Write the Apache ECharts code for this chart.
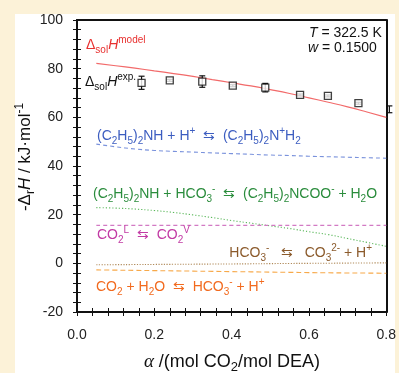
<!DOCTYPE html>
<html>
<head>
<meta charset="utf-8">
<script src="https://cdn.jsdelivr.net/npm/echarts@6/dist/echarts.min.js"></script>
<style>
  html, body { margin: 0; padding: 0; background: #fcf2d8; }
  #panel { position: absolute; left: 15px; top: 14px; width: 380px; height: 359px; background: #ffffff; }
  #chart { position: absolute; left: 0; top: 0; width: 399px; height: 373px; }
</style>
</head>
<body>
<div id="panel"></div>
<div id="chart"></div>
<script>
// Loading (mol CO2 / mol DEA) at which the model curves are evaluated
const alpha = [0.05, 0.10, 0.15, 0.20, 0.25, 0.30, 0.35, 0.40, 0.45, 0.50, 0.55, 0.60, 0.65, 0.70, 0.75, 0.80];

// Model enthalpy of solution and its reaction contributions (kJ/mol)
const modelH      = [82.2, 81.2, 80.2, 79.1, 78.0, 76.8, 75.5, 74.2, 72.9, 71.4, 69.8, 68.0, 66.2, 64.3, 62.2, 60.0];
const protonH     = [49.0, 47.9, 47.0, 46.4, 46.0, 45.7, 45.4, 45.1, 44.8, 44.5, 44.3, 44.0, 43.8, 43.6, 43.4, 43.2];
const carbamateH  = [22.9, 22.7, 22.3, 21.7, 20.9, 19.9, 18.8, 17.6, 16.5, 15.4, 14.3, 13.0, 11.8, 10.2, 8.6, 7.0];
const desorbH     = [15.6, 15.6, 15.6, 15.6, 15.6, 15.6, 15.6, 15.6, 15.6, 15.6, 15.6, 15.6, 15.6, 15.6, 15.6, 15.6];
const bicarbH     = [-0.6, -0.55, -0.5, -0.45, -0.4, -0.35, -0.3, -0.25, -0.2, -0.12, -0.05, 0.0, 0.05, 0.1, 0.15, 0.2];
const hydrationH  = [-2.7, -2.8, -2.9, -3.0, -3.1, -3.2, -3.3, -3.4, -3.5, -3.6, -3.7, -3.8, -3.9, -3.95, -4.0, -4.1];

// Calorimetric measurements with uncertainties
const expAlpha = [0.167, 0.240, 0.324, 0.403, 0.487, 0.577, 0.649, 0.728, 0.808];
const expH     = [74.2, 75.2, 74.7, 73.0, 72.2, 69.2, 68.8, 65.8, 63.3];
const expErr   = [2.7, 0.4, 2.35, 0.4, 1.75, 0.4, 0.4, 0.4, 1.4];

// Axis ranges and ticks
const xTicks = { min: 0, max: 0.8, step: 0.2 };
const yTicks = { min: -20, max: 100, step: 20 };

const FONT = '"Liberation Sans", Arial, sans-serif';

const pairs = (ys) => alpha.map((a, i) => [a, ys[i]]);

function richSet(color, size) {
  const sub = Math.round(size * 0.7);
  return {
    b: { color, fontSize: size, fontFamily: FONT, lineHeight: size + 6 },
    i: { color, fontSize: size, fontFamily: FONT, fontStyle: 'italic', lineHeight: size + 6 },
    s: { color, fontSize: sub, fontFamily: FONT, lineHeight: sub, verticalAlign: 'bottom' },
    p: { color, fontSize: sub, fontFamily: FONT, lineHeight: sub, verticalAlign: 'top' },
    g: { color, fontSize: size + 1, fontFamily: '"Liberation Serif", serif', fontStyle: 'italic', lineHeight: size + 6 }
  };
}

function label(x, y, text, color, size, align, extra) {
  return Object.assign({
    type: 'text',
    x, y,
    z: 50,
    style: {
      text,
      align: align || 'left',
      verticalAlign: 'middle',
      rich: richSet(color, size),
      fill: color,
      font: size + 'px ' + FONT
    }
  }, extra || {});
}

const baseAxis = {
  axisLine: { show: true, onZero: false, lineStyle: { color: '#111', width: 2 } },
  splitLine: { show: false }
};

function lineSeries(ys, color, type, name) {
  return {
    name,
    type: 'line',
    data: pairs(ys),
    smooth: true,
    symbol: 'none',
    z: 3,
    lineStyle: { color, width: 1.1, type }
  };
}

// Squares are only drawn for loadings inside the axis range; error bars are drawn for all
const inRange = expAlpha.map((a, i) => [a, expH[i]]).filter((p) => p[0] <= xTicks.max);

const chart = echarts.init(document.getElementById('chart'), null, { renderer: 'canvas' });

chart.setOption({
  animation: false,
  grid: { left: 77, top: 20, right: 12, bottom: 61 },
  xAxis: [
    Object.assign({}, baseAxis, {
      type: 'value', position: 'bottom',
      min: xTicks.min, max: xTicks.max, interval: xTicks.step,
      axisTick: { show: true, inside: false, length: 4, lineStyle: { color: '#111', width: 1 } },
      minorTick: { show: true, splitNumber: 5, length: 4, lineStyle: { color: '#111', width: 1 } },
      axisLabel: { color: '#222', fontSize: 14, fontFamily: FONT, margin: 16,
                   formatter: (v) => v.toFixed(1) }
    }),
    Object.assign({}, baseAxis, {
      type: 'value', position: 'bottom',
      min: xTicks.min, max: xTicks.max, interval: xTicks.step,
      axisTick: { show: true, inside: true, length: 4, lineStyle: { color: '#111', width: 1 } },
      minorTick: { show: true, splitNumber: 5, length: 4, lineStyle: { color: '#111', width: 1 } },
      axisLabel: { show: false }
    }),
    Object.assign({}, baseAxis, {
      type: 'value', position: 'top',
      min: xTicks.min, max: xTicks.max, interval: xTicks.step,
      axisTick: { show: false }, axisLabel: { show: false }
    })
  ],
  yAxis: [
    Object.assign({}, baseAxis, {
      type: 'value', position: 'left',
      min: yTicks.min, max: yTicks.max, interval: yTicks.step,
      axisTick: { show: true, inside: false, length: 4, lineStyle: { color: '#111', width: 1 } },
      minorTick: { show: true, splitNumber: 5, length: 4, lineStyle: { color: '#111', width: 1 } },
      axisLabel: { color: '#222', fontSize: 14, fontFamily: FONT, margin: 14 }
    }),
    Object.assign({}, baseAxis, {
      type: 'value', position: 'left',
      min: yTicks.min, max: yTicks.max, interval: yTicks.step,
      axisTick: { show: true, inside: true, length: 4, lineStyle: { color: '#111', width: 1 } },
      minorTick: { show: true, splitNumber: 5, length: 4, lineStyle: { color: '#111', width: 1 } },
      axisLabel: { show: false }
    }),
    Object.assign({}, baseAxis, {
      type: 'value', position: 'right',
      min: yTicks.min, max: yTicks.max, interval: yTicks.step,
      axisTick: { show: false }, axisLabel: { show: false }
    })
  ],
  series: [
    lineSeries(protonH, '#7a92dc', [4, 3], 'protonation'),
    lineSeries(carbamateH, '#5cb85c', [1.2, 2], 'carbamate'),
    lineSeries(desorbH, '#d27ac4', [4, 3], 'desorption'),
    lineSeries(bicarbH, '#b08a5a', [1.2, 1.5], 'bicarbonate'),
    lineSeries(hydrationH, '#f7a94a', [5, 3], 'hydration'),
    {
      name: 'model',
      type: 'line',
      data: pairs(modelH),
      smooth: true,
      symbol: 'none',
      z: 4,
      lineStyle: { color: '#f26a6a', width: 1.2 }
    },
    {
      name: 'error',
      type: 'custom',
      z: 5,
      clip: false,
      data: expAlpha.map((a, i) => [a, expH[i], expErr[i]]),
      renderItem: (params, api) => {
        const top = api.coord([api.value(0), api.value(1) + api.value(2)]);
        const bot = api.coord([api.value(0), api.value(1) - api.value(2)]);
        const cap = 3;
        const st = { stroke: '#111', lineWidth: 1.2 };
        return {
          type: 'group',
          children: [
            { type: 'line', shape: { x1: top[0], y1: top[1], x2: bot[0], y2: bot[1] }, style: st },
            { type: 'line', shape: { x1: top[0] - cap, y1: top[1], x2: top[0] + cap, y2: top[1] }, style: st },
            { type: 'line', shape: { x1: bot[0] - cap, y1: bot[1], x2: bot[0] + cap, y2: bot[1] }, style: st }
          ]
        };
      }
    },
    {
      name: 'experiment',
      type: 'scatter',
      z: 6,
      symbol: 'rect',
      symbolSize: 7,
      data: inRange,
      itemStyle: { color: '#ffffff', borderColor: '#111', borderWidth: 1.3 }
    }
  ],
  graphic: [
    label(86, 45, '{b|Δ}{s|sol}{i|H}{p|model}', '#e8302f', 14),
    label(85, 82, '{b|Δ}{s|sol}{i|H}{p|exp.}', '#111', 14),
    label(309, 33, '{i|T}{b| = 322.5 K}', '#111', 14),
    label(308, 48, '{i|w}{b| = 0.1500}', '#111', 14),
    label(97, 136, '{b|(C}{s|2}{b|H}{s|5}{b|)}{s|2}{b|NH + H}{p|+}{b|  ⇆  (C}{s|2}{b|H}{s|5}{b|)}{s|2}{b|N}{p|+}{b|H}{s|2}', '#3c5dc0', 14),
    label(93, 194, '{b|(C}{s|2}{b|H}{s|5}{b|)}{s|2}{b|NH + HCO}{s|3}{p|-}{b|  ⇆  (C}{s|2}{b|H}{s|5}{b|)}{s|2}{b|NCOO}{p|-}{b| + H}{s|2}{b|O}', '#2a8c3c', 14),
    label(97, 235, '{b|CO}{s|2}{p|L}{b|  ⇆  CO}{s|2}{p|V}', '#c23aa4', 14),
    label(372, 253, '{b|HCO}{s|3}{p|-}{b|   ⇆   CO}{s|3}{p|2-}{b| + H}{p|+}', '#8b5a2b', 14, 'right'),
    label(96, 287, '{b|CO}{s|2}{b| + H}{s|2}{b|O  ⇆  HCO}{s|3}{p|-}{b| + H}{p|+}', '#f26a1e', 14),
    label(232, 362, '{g|α}{b| /(mol CO}{s|2}{b|/mol DEA)}', '#111', 18, 'center'),
    label(25, 157, '{b|-Δ}{s|r}{i|H}{b| / kJ·mol}{p|-1}', '#111', 17, 'center', { rotation: Math.PI / 2 })
  ]
});
</script>
</body>
</html>
